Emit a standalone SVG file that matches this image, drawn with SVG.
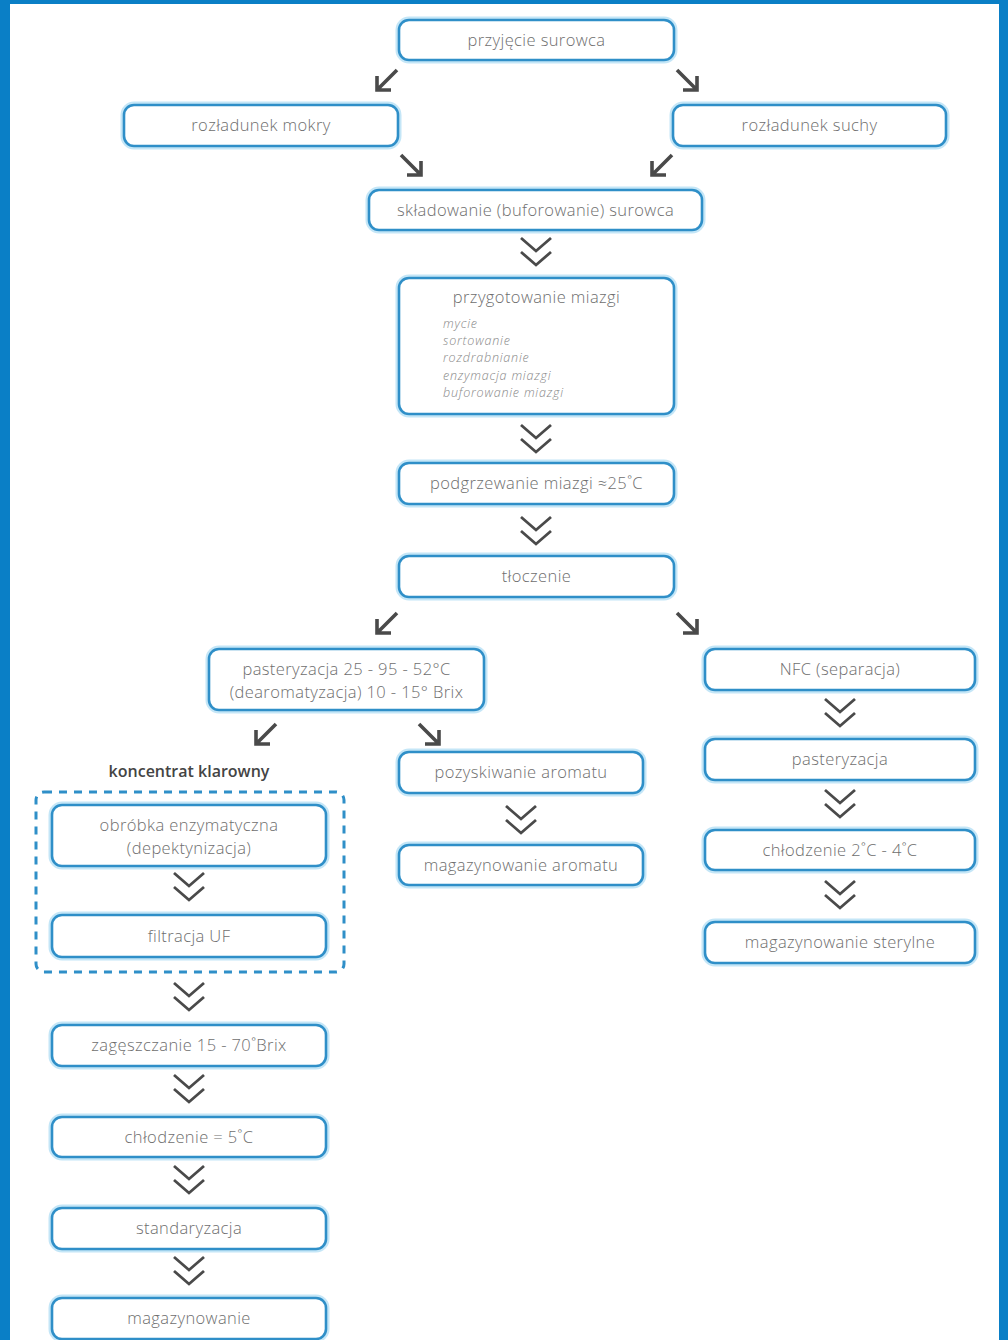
<svg xmlns="http://www.w3.org/2000/svg" width="1008" height="1340" viewBox="0 0 1008 1340">
<style>
.box{fill:#fff;stroke:#2f8fc8;stroke-width:2.6}
.glow{fill:none;stroke:#c4e6f7;stroke-width:7}
.t{font-family:"Open Sans","Liberation Sans",sans-serif;font-size:16.5px;font-weight:300;letter-spacing:0.4px;fill:#6e6e6e;text-anchor:middle}
.s{font-family:"Open Sans","Liberation Sans",sans-serif;font-size:12.5px;font-weight:300;font-style:italic;letter-spacing:0.8px;fill:#888}
.h{font-family:"Open Sans","Liberation Sans",sans-serif;font-size:16px;font-weight:600;fill:#444;text-anchor:middle}
.arr{fill:none;stroke:#4a4a4a;stroke-width:3.6;stroke-linecap:butt;stroke-linejoin:miter}
.chev{fill:none;stroke:#4a4a4a;stroke-width:2.8}
.dash{fill:none;stroke:#2f8fc8;stroke-width:3;stroke-dasharray:8 7}
</style>
<defs>
<path id="chv" d="M-15,0 L0,13 L15,0 M-15,14 L0,27 L15,14"/>
</defs>
<rect x="0" y="0" width="1008" height="1340" fill="#fff"/>
<rect x="0" y="0" width="10" height="1340" fill="#0a7fc6"/>
<rect x="999" y="0" width="9" height="1340" fill="#0a7fc6"/>
<rect x="0" y="0" width="1008" height="4" fill="#0a7fc6"/>

<g id="group-koncentrat">
<text class="h" x="189" y="777">koncentrat klarowny</text>
<rect class="dash" x="36" y="792" width="308" height="180" rx="8"/>
</g>

<g id="n1"><rect class="glow" x="399" y="20" width="275" height="40" rx="10"/><rect class="box" x="399" y="20" width="275" height="40" rx="10"/><text class="t" x="536.5" y="45.5">przyjęcie surowca</text></g>
<g id="n2"><rect class="glow" x="124" y="105" width="274" height="41" rx="10"/><rect class="box" x="124" y="105" width="274" height="41" rx="10"/><text class="t" x="261" y="131">rozładunek mokry</text></g>
<g id="n3"><rect class="glow" x="673" y="105" width="273" height="41" rx="10"/><rect class="box" x="673" y="105" width="273" height="41" rx="10"/><text class="t" x="809.5" y="131">rozładunek suchy</text></g>
<g id="n4"><rect class="glow" x="369" y="190" width="333" height="40" rx="10"/><rect class="box" x="369" y="190" width="333" height="40" rx="10"/><text class="t" x="535.5" y="215.5">składowanie (buforowanie) surowca</text></g>
<g id="n5"><rect class="glow" x="399" y="278" width="275" height="136" rx="10"/><rect class="box" x="399" y="278" width="275" height="136" rx="10"/>
<text class="t" x="536.5" y="303">przygotowanie miazgi</text>
<text class="s" x="443" y="328">mycie</text>
<text class="s" x="443" y="345">sortowanie</text>
<text class="s" x="443" y="362">rozdrabnianie</text>
<text class="s" x="443" y="380">enzymacja miazgi</text>
<text class="s" x="443" y="397">buforowanie miazgi</text></g>
<g id="n6"><rect class="glow" x="399" y="463" width="275" height="41" rx="10"/><rect class="box" x="399" y="463" width="275" height="41" rx="10"/><text class="t" x="536.5" y="489">podgrzewanie miazgi ≈25˚C</text></g>
<g id="n7"><rect class="glow" x="399" y="556" width="275" height="41" rx="10"/><rect class="box" x="399" y="556" width="275" height="41" rx="10"/><text class="t" x="536.5" y="582">tłoczenie</text></g>
<g id="n8"><rect class="glow" x="209" y="649" width="275" height="61" rx="10"/><rect class="box" x="209" y="649" width="275" height="61" rx="10"/><text class="t" x="346.5" y="675">pasteryzacja 25 - 95 - 52°C</text><text class="t" x="346.5" y="698">(dearomatyzacja) 10 - 15° Brix</text></g>
<g id="n9"><rect class="glow" x="705" y="649" width="270" height="41" rx="10"/><rect class="box" x="705" y="649" width="270" height="41" rx="10"/><text class="t" x="840" y="675">NFC (separacja)</text></g>
<g id="n10"><rect class="glow" x="399" y="752" width="244" height="41" rx="10"/><rect class="box" x="399" y="752" width="244" height="41" rx="10"/><text class="t" x="521" y="778">pozyskiwanie aromatu</text></g>
<g id="n11"><rect class="glow" x="399" y="845" width="244" height="40" rx="10"/><rect class="box" x="399" y="845" width="244" height="40" rx="10"/><text class="t" x="521" y="870.5">magazynowanie aromatu</text></g>
<g id="n12"><rect class="glow" x="705" y="739" width="270" height="41" rx="10"/><rect class="box" x="705" y="739" width="270" height="41" rx="10"/><text class="t" x="840" y="765">pasteryzacja</text></g>
<g id="n13"><rect class="glow" x="705" y="830" width="270" height="40" rx="10"/><rect class="box" x="705" y="830" width="270" height="40" rx="10"/><text class="t" x="840" y="855.5">chłodzenie 2˚C - 4˚C</text></g>
<g id="n14"><rect class="glow" x="705" y="922" width="270" height="41" rx="10"/><rect class="box" x="705" y="922" width="270" height="41" rx="10"/><text class="t" x="840" y="948">magazynowanie sterylne</text></g>
<g id="n15"><rect class="glow" x="52" y="805" width="274" height="61" rx="10"/><rect class="box" x="52" y="805" width="274" height="61" rx="10"/><text class="t" x="189" y="831">obróbka enzymatyczna</text><text class="t" x="189" y="854">(depektynizacja)</text></g>
<g id="n16"><rect class="glow" x="52" y="915" width="274" height="42" rx="10"/><rect class="box" x="52" y="915" width="274" height="42" rx="10"/><text class="t" x="189" y="941.5">filtracja UF</text></g>
<g id="n17"><rect class="glow" x="52" y="1025" width="274" height="41" rx="10"/><rect class="box" x="52" y="1025" width="274" height="41" rx="10"/><text class="t" x="189" y="1051">zagęszczanie 15 - 70˚Brix</text></g>
<g id="n18"><rect class="glow" x="52" y="1117" width="274" height="40" rx="10"/><rect class="box" x="52" y="1117" width="274" height="40" rx="10"/><text class="t" x="189" y="1142.5">chłodzenie = 5˚C</text></g>
<g id="n19"><rect class="glow" x="52" y="1208" width="274" height="41" rx="10"/><rect class="box" x="52" y="1208" width="274" height="41" rx="10"/><text class="t" x="189" y="1234">standaryzacja</text></g>
<g id="n20"><rect class="glow" x="52" y="1298" width="274" height="41" rx="10"/><rect class="box" x="52" y="1298" width="274" height="41" rx="10"/><text class="t" x="189" y="1324">magazynowanie</text></g>

<g id="connectors">
<path class="arr" d="M397,70 L377,90 M377,76 L377,90 L391,90"/>
<path class="arr" d="M672,155 L652,175 M652,161 L652,175 L666,175"/>
<path class="arr" d="M397,613 L377,633 M377,619 L377,633 L391,633"/>
<path class="arr" d="M276,724 L256,744 M256,730 L256,744 L270,744"/>
<path class="arr" d="M677,70 L697,90 M697,76 L697,90 L683,90"/>
<path class="arr" d="M401,155 L421,175 M421,161 L421,175 L407,175"/>
<path class="arr" d="M677,613 L697,633 M697,619 L697,633 L683,633"/>
<path class="arr" d="M419,724 L439,744 M439,730 L439,744 L425,744"/>
<use class="chev" href="#chv" x="536" y="238"/>
<use class="chev" href="#chv" x="536" y="425"/>
<use class="chev" href="#chv" x="536" y="517"/>
<use class="chev" href="#chv" x="521" y="806"/>
<use class="chev" href="#chv" x="840" y="699"/>
<use class="chev" href="#chv" x="840" y="790"/>
<use class="chev" href="#chv" x="840" y="881"/>
<use class="chev" href="#chv" x="189" y="873"/>
<use class="chev" href="#chv" x="189" y="983"/>
<use class="chev" href="#chv" x="189" y="1075"/>
<use class="chev" href="#chv" x="189" y="1166"/>
<use class="chev" href="#chv" x="189" y="1257"/>
</g>
</svg>
